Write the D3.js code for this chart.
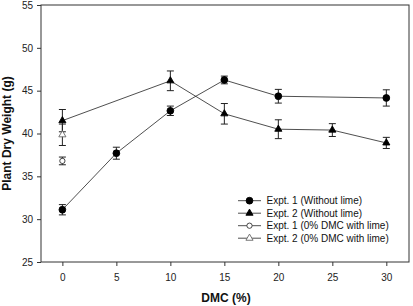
<!DOCTYPE html>
<html lang="en">
<head>
<meta charset="UTF-8">
<title>Plant dry weight vs DMC</title>
<script src="https://d3js.org/d3.v7.min.js"></script>
<style>
    body { margin: 0; background: #fff; }
    svg { display: block; font-family: "Liberation Sans", Arial, sans-serif; }
    .tick text { font-size: 10px; fill: #222; }
    .axis-title { font-size: 12px; font-weight: bold; fill: #111; }
    .legend-text { font-size: 10px; fill: #111; }
</style>
</head>
<body>
<div id="chart"></div>
<script>
    // data
    const exp1X = [0, 5, 10, 15, 20, 30];
    const exp1Y = [31.1, 37.7, 42.65, 46.25, 44.35, 44.15];
    const exp1Err = [0.6, 0.7, 0.55, 0.45, 0.8, 0.95];

    const exp2X = [0, 10, 15, 20, 25, 30];
    const exp2Y = [41.5, 46.15, 42.3, 40.5, 40.4, 38.9];
    const exp2Err = [1.3, 1.15, 1.2, 1.1, 0.75, 0.65];

    const limeX = [0, 0];
    const limeY = [36.8, 39.85];
    const limeErr = [0.45, 1.25];

    const xTicks = [0, 5, 10, 15, 20, 25, 30];
    const yTicks = [25, 30, 35, 40, 45, 50, 55];
    const legendLabels = ["Expt. 1 (Without lime)", "Expt. 2 (Without lime)",
        "Expt. 1 (0% DMC with lime)", "Expt. 2 (0% DMC with lime)"];

    const width = 413, height = 306;
    const plotL = 41, plotR = 409, plotT = 5, plotB = 262;

    const svg = d3.select("#chart").append("svg")
        .attr("width", width).attr("height", height);

    const x = d3.scaleLinear().domain([-1.98, 32.1]).range([plotL, plotR]);
    const y = d3.scaleLinear().domain([25, 55]).range([plotB, plotT]);

    // frame
    svg.append("rect")
        .attr("x", plotL).attr("y", plotT)
        .attr("width", plotR - plotL).attr("height", plotB - plotT)
        .attr("fill", "none").attr("stroke", "#333").attr("stroke-width", 1);

    const xAxis = svg.append("g")
        .attr("transform", `translate(0,${plotB})`)
        .call(d3.axisBottom(x).tickValues(xTicks).tickSize(4).tickPadding(8));
    const yAxis = svg.append("g")
        .attr("transform", `translate(${plotL},0)`)
        .call(d3.axisLeft(y).tickValues(yTicks).tickSize(4).tickPadding(4));
    [xAxis, yAxis].forEach(a => {
        a.select(".domain").remove();
        a.selectAll(".tick line").attr("stroke", "#333");
    });

    svg.append("text").attr("class", "axis-title")
        .attr("x", 226).attr("y", 302)
        .attr("text-anchor", "middle").text("DMC (%)");
    svg.append("text").attr("class", "axis-title")
        .attr("transform", `translate(10.5,${(plotT + plotB) / 2}) rotate(-90)`)
        .attr("text-anchor", "middle").text("Plant Dry Weight (g)");

    const line = d3.line().x(d => x(d[0])).y(d => y(d[1]));
    const tri = d3.symbol().type(d3.symbolTriangle).size(22);
    const circ = d3.symbol().type(d3.symbolCircle).size(36);
    const openCirc = d3.symbol().type(d3.symbolCircle).size(22);

    function drawSeries(xs, ys, errs, opts) {
        const pts = xs.map((v, i) => [v, ys[i], errs[i]]);
        if (opts.connect) {
            svg.append("path").datum(pts)
                .attr("d", line)
                .attr("fill", "none").attr("stroke", "#222").attr("stroke-width", 0.8);
        }
        const eb = svg.append("g").attr("stroke", "#222").attr("stroke-width", 1);
        pts.forEach(p => {
            const cx = x(p[0]);
            eb.append("line").attr("x1", cx).attr("x2", cx)
                .attr("y1", y(p[1] - p[2])).attr("y2", y(p[1] + p[2]));
            [p[1] - p[2], p[1] + p[2]].forEach(v => {
                eb.append("line").attr("x1", cx - 3.5).attr("x2", cx + 3.5)
                    .attr("y1", y(v)).attr("y2", y(v));
            });
        });
        svg.append("g").selectAll("path").data(pts).enter().append("path")
            .attr("transform", d => `translate(${x(d[0])},${y(d[1])})`)
            .attr("d", opts.symbol)
            .attr("fill", opts.fill).attr("stroke", opts.stroke).attr("stroke-width", 0.9);
    }

    drawSeries(exp1X, exp1Y, exp1Err, { connect: true, symbol: circ, fill: "#000", stroke: "#000" });
    drawSeries(exp2X, exp2Y, exp2Err, { connect: true, symbol: tri, fill: "#000", stroke: "#000" });
    drawSeries([limeX[0]], [limeY[0]], [limeErr[0]], { connect: false, symbol: openCirc, fill: "#fff", stroke: "#333" });
    drawSeries([limeX[1]], [limeY[1]], [limeErr[1]], { connect: false, symbol: tri, fill: "#fff", stroke: "#666" });

    // legend
    const legendSymbols = [
        { symbol: circ, fill: "#000", stroke: "#000" },
        { symbol: tri, fill: "#000", stroke: "#000" },
        { symbol: openCirc, fill: "#fff", stroke: "#333" },
        { symbol: tri, fill: "#fff", stroke: "#666" }
    ];
    const legend = svg.append("g");
    legendLabels.forEach((label, i) => {
        const ly = 200.7 + i * 12.5;
        legend.append("line").attr("x1", 238).attr("x2", 261)
            .attr("y1", ly).attr("y2", ly)
            .attr("stroke", "#222").attr("stroke-width", 0.8);
        legend.append("path")
            .attr("transform", `translate(249.5,${ly})`)
            .attr("d", legendSymbols[i].symbol)
            .attr("fill", legendSymbols[i].fill)
            .attr("stroke", legendSymbols[i].stroke).attr("stroke-width", 0.9);
        legend.append("text").attr("class", "legend-text")
            .attr("x", 266.5).attr("y", ly + 3.6).text(label);
    });
</script>
</body>
</html>
